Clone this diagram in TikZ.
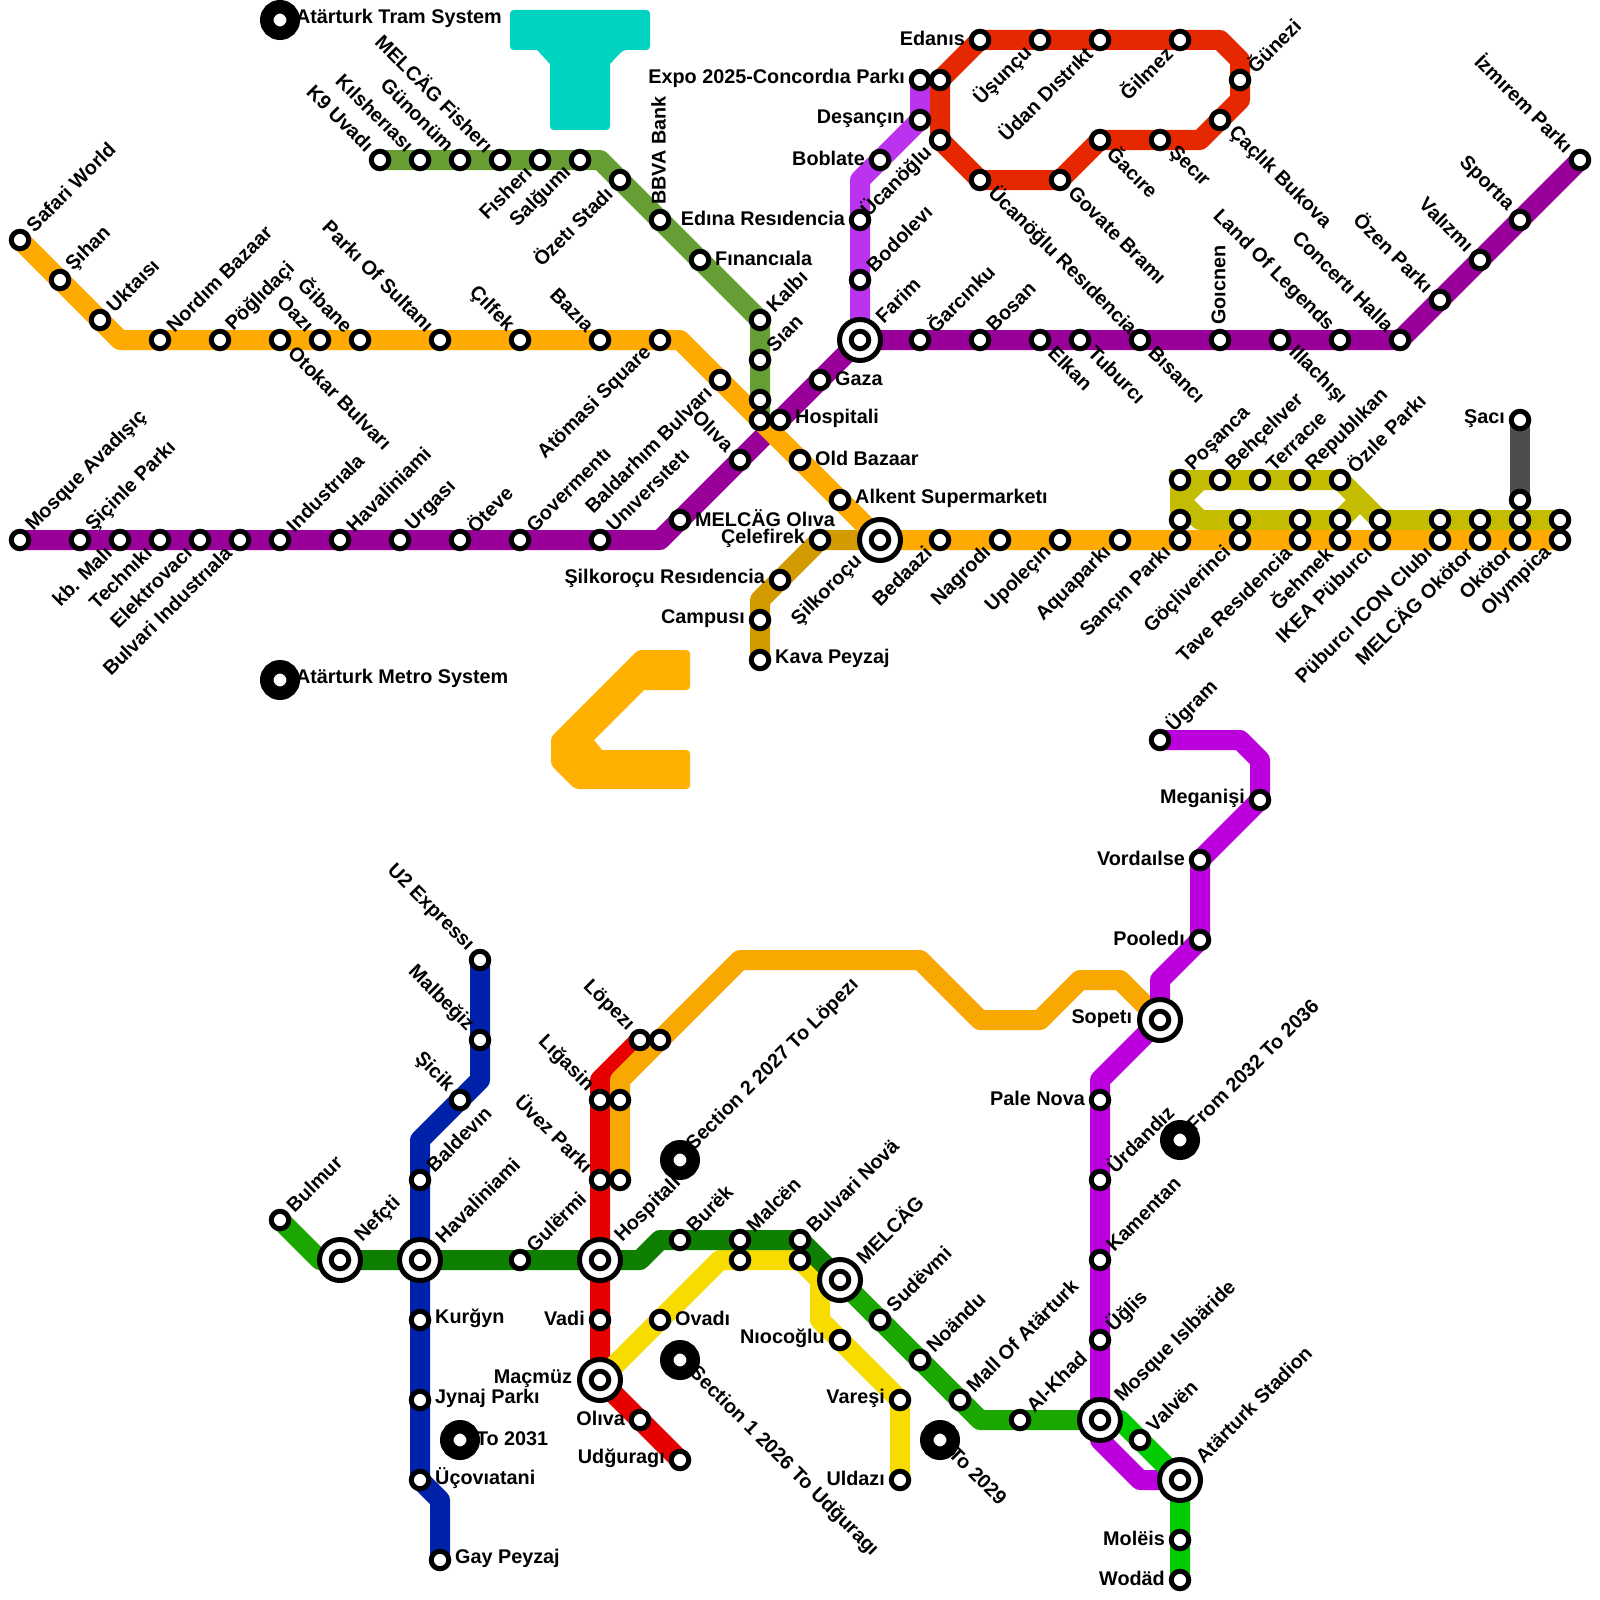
\documentclass[tikz,border=0pt]{standalone}
\usepackage{fontspec}
\setmainfont{Liberation Sans}
\definecolor{cOrange}{HTML}{FFAA00}
\definecolor{cOrangeB}{HTML}{F8A800}
\definecolor{cIcon}{HTML}{FFB000}
\definecolor{cTeal}{HTML}{00D4C0}
\definecolor{cPurple}{HTML}{990099}
\definecolor{cLilac}{HTML}{BB33EE}
\definecolor{cMagenta}{HTML}{BB00DD}
\definecolor{cScarlet}{HTML}{E62800}
\definecolor{cRed}{HTML}{E60000}
\definecolor{cMoss}{HTML}{669E33}
\definecolor{cOlive}{HTML}{C4BC00}
\definecolor{cGold}{HTML}{D49B00}
\definecolor{cGrey}{HTML}{4D4D4D}
\definecolor{cBlue}{HTML}{0022AA}
\definecolor{cDarkGreen}{HTML}{0E7F00}
\definecolor{cGreen}{HTML}{1AA800}
\definecolor{cLime}{HTML}{00CC00}
\definecolor{cYellow}{HTML}{F8DC00}
\pgfdeclarelayer{lines}
\pgfsetlayers{lines,main}
\tikzset{
  metro/.style={line width=10pt,line join=round,line cap=butt},
  stn/.style={circle,draw=black,fill=white,line width=2.5pt,minimum size=8.75pt,inner sep=0pt,outer sep=0pt},
  hub/.style={circle,draw=black,fill=white,line width=2.5pt,minimum size=20.5pt,inner sep=0pt,outer sep=0pt},
  legenddot/.style={circle,draw=black,fill=white,line width=6.75pt,minimum size=13.25pt,inner sep=0pt,outer sep=0pt},
  lab/.style={inner sep=0pt,outer sep=0pt,font=\fontsize{9.9}{11}\selectfont\bfseries,text=black},
  labe/.style={yshift=.75pt,anchor=west},
  labw/.style={yshift=.75pt,anchor=east},
  labn/.style={rotate=90,yshift=.75pt,anchor=west},
  labne/.style={rotate=45,yshift=.75pt,anchor=west},
  labnw/.style={rotate=-45,yshift=.75pt,anchor=east},
  labsw/.style={rotate=45,yshift=.75pt,anchor=east},
  labse/.style={rotate=-45,yshift=.75pt,anchor=west},
  icon/.style={rounded corners=1.8pt,draw=none}
}
\def\ange{0}\def\angw{180}\def\angn{90}\def\angne{45}\def\angnw{135}\def\angsw{225}\def\angse{315}
\newcommand\lab[4]{\path (#1) ++(\csname ang#2\endcsname:#4) node[lab,lab#2] (#1-l) {#3};}
\newcommand\st[5]{\node[stn] (#1) at (#2,#3) {};\lab{#1}{#4}{#5}{7.6pt}}
\newcommand\sn[3]{\node[stn] (#1) at (#2,#3) {};}
\newcommand\hb[5]{\node[hub] (#1) at (#2,#3) {};\node[stn] (#1-in) at (#2,#3) {};\lab{#1}{#4}{#5}{14pt}}
\newcommand\lgd[5]{\node[legenddot] (#1) at (#2,#3) {};\lab{#1}{#4}{#5}{8pt}}
\newcommand\metroline[3]{\begin{pgfonlayer}{lines}\draw[metro,#1] (#2.center) \foreach \n in {#3} {-- (\n.center)};\end{pgfonlayer}}
\begin{document}
\begin{tikzpicture}[x=10pt,y=-10pt]
\useasboundingbox (0,0) rectangle (80,80);
% icons
\begin{pgfonlayer}{lines}
\fill[cTeal,icon] (25.5,.5) -- (32.5,.5) -- (32.5,2.5) -- (31.15,2.5) [sharp corners] -- (30.5,3.2) [rounded corners=1.8pt] -- (30.5,6.5) -- (27.5,6.5) [sharp corners] -- (27.5,3.2) -- (26.85,2.5) [rounded corners=1.8pt] -- (25.5,2.5) -- cycle;
\fill[cIcon,icon] (31.9,32.5) -- (34.5,32.5) -- (34.5,34.5) [sharp corners] -- (32.2,34.5) -- (29.7,37) -- (30.1,37.5) [rounded corners=1.8pt] -- (34.5,37.5) -- (34.5,39.45) -- (28.75,39.45) -- (27.55,38.25) -- (27.55,36.85) -- cycle;
\end{pgfonlayer}
% legends
\lgd{legTram}{14}{1}{e}{Atärturk Tram System}
\lgd{legMetro}{14}{34}{e}{Atärturk Metro System}
\lgd{legA}{23}{72}{e}{To 2031}
\lgd{legB}{34}{58}{ne}{Section 2 2027 To Löpezı}
\lgd{legC}{34}{68}{se}{Section 1 2026 To Udğuragı}
\lgd{legD}{47}{72}{se}{To 2029}
\lgd{legE}{59}{57}{ne}{From 2032 To 2036}
% orange top line
\st{oa}{1}{12}{ne}{Safari World}
\st{ob}{3}{14}{ne}{Şıhan}
\st{oc}{5}{16}{ne}{Uktaısı}
\coordinate (ocx) at (6,17);
\st{od}{8}{17}{ne}{Nordım Bazaar}
\st{oe}{11}{17}{ne}{Pöğlıdaçi}
\st{of}{14}{17}{se}{Otokar Bulvarı}
\st{og}{16}{17}{nw}{Oazı}
\st{oh}{18}{17}{nw}{Ğibane}
\st{oi}{22}{17}{nw}{Parkı Of Sultanı}
\st{oj}{26}{17}{nw}{Çılfek}
\st{ok}{30}{17}{nw}{Bazıa}
\st{ol}{33}{17}{sw}{Atömasi Square}
\coordinate (olx) at (34,17);
\st{om}{36}{19}{sw}{Baldarhım Bulvarı}
\sn{on}{38}{21}
\st{oo}{40}{23}{e}{Old Bazaar}
\st{op}{42}{25}{e}{Alkent Supermarketı}
\hb{oq}{44}{27}{sw}{Şilkoroçu}
\st{or}{47}{27}{sw}{Bedaazi}
\st{os}{50}{27}{sw}{Nagrodı}
\st{ot}{53}{27}{sw}{Upoleçın}
\st{ou}{56}{27}{sw}{Aquaparkı}
\st{ov}{59}{27}{sw}{Sançın Parkı}
\st{ow}{62}{27}{sw}{Göçliverinci}
\st{ox}{65}{27}{sw}{Tave Resıdencia}
\st{oy}{67}{27}{sw}{Ğehmek}
\st{oz}{69}{27}{sw}{IKEA Püburcı}
\st{oaa}{72}{27}{sw}{Püburcı ICON Clubı}
\st{oab}{74}{27}{sw}{MELCÄG Okötor}
\st{oac}{76}{27}{sw}{Okötor}
\st{oad}{78}{27}{sw}{Olympica}
% moss line
\st{ma}{19}{8}{nw}{K9 Uvadı}
\st{mb}{21}{8}{nw}{Kılsherıası}
\st{mc}{23}{8}{nw}{Günonüm}
\st{md}{25}{8}{nw}{MELCÄG Fisherı}
\st{me}{27}{8}{sw}{Fısherı}
\st{mf}{29}{8}{sw}{Salğumı}
\coordinate (mfx) at (30,8);
\st{mg}{31}{9}{sw}{Özetı Stadı}
\st{mh}{33}{11}{n}{BBVA Bank}
\st{mi}{35}{13}{e}{Fınancıala}
\st{mj}{38}{16}{ne}{Kalbı}
\st{mk}{38}{18}{ne}{Sıan}
\sn{ml}{38}{20}
% purple line
\st{pa}{1}{27}{ne}{Mosque Avadışıç}
\st{pb}{4}{27}{ne}{Şiçinle Parkı}
\st{pc}{6}{27}{sw}{kb. Malı}
\st{pd}{8}{27}{sw}{Technıkı}
\st{pe}{10}{27}{sw}{Elektrovacı}
\st{pf}{12}{27}{sw}{Bulvari Industrıala}
\st{pg}{14}{27}{ne}{Industrıala}
\st{ph}{17}{27}{ne}{Havaliniami}
\st{pi}{20}{27}{ne}{Urgası}
\st{pj}{23}{27}{ne}{Öteve}
\st{pk}{26}{27}{ne}{Govermentı}
\st{pl}{30}{27}{ne}{Unıversıtetı}
\coordinate (plx) at (33,27);
\st{pm}{34}{26}{e}{MELCÄG Olıva}
\st{pn}{37}{23}{nw}{Olıva}
\st{po}{39}{21}{e}{Hospitali}
\st{pp}{41}{19}{e}{Gaza}
\hb{pq}{43}{17}{ne}{Farim}
\st{pr}{46}{17}{ne}{Ğarcınku}
\st{ps}{49}{17}{ne}{Bosan}
\st{pt}{52}{17}{se}{Elkan}
\st{pu}{54}{17}{se}{Tuburcı}
\st{pv}{57}{17}{se}{Bısancı}
\st{pw}{61}{17}{n}{Goıcnen}
\st{px}{64}{17}{se}{Illachışı}
\st{py}{67}{17}{nw}{Land Of Legends}
\st{pz}{70}{17}{nw}{Concertı Halla}
\st{paa}{72}{15}{nw}{Özen Parkı}
\st{pab}{74}{13}{nw}{Valızmı}
\st{pac}{76}{11}{nw}{Sportıa}
\st{pad}{79}{8}{nw}{İzmırem Parkı}
% lilac
\st{la}{46}{4}{w}{Expo 2025-Concordıa Parkı}
\st{lb}{46}{6}{w}{Deşançın}
\st{lc}{44}{8}{w}{Boblate}
\coordinate (lcx) at (43,9);
\st{ld}{43}{11}{w}{Edına Resıdencia}
\st{le}{43}{14}{ne}{Bodolevı}
% scarlet loop
\sn{sa}{47}{4}
\st{sb}{49}{2}{w}{Edanıs}
\st{sc}{52}{2}{sw}{Üşunçu}
\st{sd}{55}{2}{sw}{Üdan Dıstrıkt}
\st{se}{59}{2}{sw}{Ğilmez}
\coordinate (sex) at (61,2);
\coordinate (sey) at (62,3);
\st{sf}{62}{4}{ne}{Ğünezi}
\coordinate (sfx) at (62,5);
\st{sg}{61}{6}{se}{Çaçlık Bukova}
\coordinate (sgx) at (60,7);
\st{sh}{58}{7}{se}{Şecır}
\st{si}{55}{7}{se}{Ğacıre}
\st{sj}{53}{9}{se}{Govate Bramı}
\st{sk}{49}{9}{se}{Ücanöğlu Resıdencia}
\st{sl}{47}{7}{sw}{Ücanöğlu}
% olive
\st{va}{59}{24}{ne}{Poşanca}
\st{vb}{61}{24}{ne}{Behçelıver}
\st{vc}{63}{24}{ne}{Terracıe}
\st{vd}{65}{24}{ne}{Republıkan}
\st{ve}{67}{24}{ne}{Özıle Parkı}
\sn{vf}{69}{26}
\sn{vg}{72}{26}
\sn{vh}{74}{26}
\sn{vi}{76}{26}
\sn{vj}{78}{26}
\sn{vk}{59}{26}
\sn{vl}{62}{26}
\sn{vm}{65}{26}
\sn{vn}{67}{26}
\coordinate (vx) at (59,25);
\coordinate (vy) at (60,24);
\coordinate (vz) at (60,26);
\coordinate (vw) at (68,25);
% grey
\st{ga}{76}{21}{w}{Şacı}
\sn{gb}{76}{25}
% gold
\st{ka}{41}{27}{w}{Çelefirek}
\st{kb}{39}{29}{w}{Şilkoroçu Resıdencia}
\coordinate (kbx) at (38,30);
\st{kc}{38}{31}{w}{Campusı}
\st{kd}{38}{33}{e}{Kava Peyzaj}
% lower network: blue
\st{ba}{24}{48}{nw}{U2 Expressı}
\st{bb}{24}{52}{nw}{Malbeğiz}
\coordinate (bbx) at (24,54);
\st{bc}{23}{55}{nw}{Şicik}
\coordinate (bcx) at (21,57);
\st{bd}{21}{59}{ne}{Baldevın}
\hb{be}{21}{63}{ne}{Havaliniami}
\st{bf}{21}{66}{e}{Kurğyn}
\st{bg}{21}{70}{e}{Jynaj Parkı}
\st{bh}{21}{74}{e}{Üçovıatani}
\coordinate (bhx) at (22,75);
\st{bi}{22}{78}{e}{Gay Peyzaj}
% green
\st{da}{14}{61}{ne}{Bulmur}
\coordinate (dax) at (16,63);
\hb{db}{17}{63}{ne}{Nefçti}
\st{dc}{26}{63}{ne}{Gulërmi}
\hb{dd}{30}{63}{ne}{Hospitali}
\coordinate (ddx) at (32,63);
\coordinate (ddy) at (33,62);
\st{de}{34}{62}{ne}{Burëk}
\st{df}{37}{62}{ne}{Malcën}
\st{dg}{40}{62}{ne}{Bulvari Novä}
\hb{dh}{42}{64}{ne}{MELCÄG}
\st{di}{44}{66}{ne}{Sudëvmi}
\st{dj}{46}{68}{ne}{Noändu}
\st{dk}{48}{70}{ne}{Mall Of Atärturk}
\coordinate (dkx) at (49,71);
\st{dl}{51}{71}{ne}{Al-Khad}
\hb{dm}{55}{71}{ne}{Mosque Islbäride}
\coordinate (dmx) at (56,71);
\st{dn}{57}{72}{ne}{Valvën}
\hb{do}{59}{74}{ne}{Atärturk Stadion}
\st{dp}{59}{77}{w}{Molëis}
\st{dq}{59}{79}{w}{Wodäd}
% magenta
\st{na}{58}{37}{ne}{Ügram}
\coordinate (nax) at (62,37);
\coordinate (nay) at (63,38);
\st{nb}{63}{40}{w}{Meganişi}
\st{nc}{60}{43}{w}{Vordaılse}
\st{nd}{60}{47}{w}{Pooledı}
\coordinate (ndx) at (58,49);
\hb{ne}{58}{51}{w}{Sopetı}
\coordinate (nex) at (55,54);
\st{nf}{55}{55}{w}{Pale Nova}
\st{ng}{55}{59}{ne}{Ürdandız}
\st{nh}{55}{63}{ne}{Kamentan}
\st{ni}{55}{67}{ne}{Üğlis}
\coordinate (nix) at (55,72);
\coordinate (niy) at (57,74);
% orange lower
\sn{ua}{31}{59}
\sn{ub}{31}{55}
\coordinate (ubx) at (31,54);
\sn{uc}{33}{52}
\coordinate (ucx) at (37,48);
\coordinate (ucy) at (46,48);
\coordinate (ucz) at (49,51);
\coordinate (ucu) at (52,51);
\coordinate (ucv) at (54,49);
\coordinate (ucw) at (56,49);
% red
\st{ra}{32}{52}{nw}{Löpezı}
\coordinate (rax) at (30,54);
\st{rb}{30}{55}{nw}{Lığasin}
\st{rc}{30}{59}{nw}{Üvez Parkı}
\st{rd}{30}{66}{w}{Vadi}
\hb{re}{30}{69}{w}{Maçmüz}
\st{rf}{32}{71}{w}{Olıva}
\st{rg}{34}{73}{w}{Udğuragı}
% yellow
\st{ya}{33}{66}{e}{Ovadı}
\coordinate (yax) at (36,63);
\sn{yb}{37}{63}
\sn{yc}{40}{63}
\coordinate (ycx) at (41,64);
\coordinate (ycy) at (41,66);
\st{yd}{42}{67}{w}{Nıocoğlu}
\st{ye}{45}{70}{w}{Vareşi}
\st{yf}{45}{74}{w}{Uldazı}
% connectors, back to front
\metroline{cPurple}{pa}{pb,pc,pd,pe,pf,pg,ph,pi,pj,pk,pl,plx,pm,pn,po,pp,pq,pr,ps,pt,pu,pv,pw,px,py,pz,paa,pab,pac,pad}
\metroline{cMoss}{ma}{mb,mc,md,me,mf,mfx,mg,mh,mi,mj,mk,ml,on}
\metroline{cGold}{kd}{kc,kbx,kb,ka,oq}
\metroline{cOrange}{oa}{ob,oc,ocx,od,oe,of,og,oh,oi,oj,ok,ol,olx,om,on,oo,op,oq,or,os,ot,ou,ov,ow,ox,oy,oz,oaa,oab,oac,oad}
\metroline{cLilac}{la}{lb,lc,lcx,ld,le,pq}
\metroline{cScarlet}{sa}{sb,sc,sd,se,sex,sey,sf,sfx,sg,sgx,sh,si,sj,sk,sl,sa}
\metroline{cOlive,line join=miter}{vk}{va,vb,vc,vd,ve,vf,vg,vh,vi,vj}
\metroline{cOlive}{vy}{vx,vz,vl,vm,vn,vw}
\metroline{cGrey}{ga}{gb}
\metroline{cBlue}{ba}{bb,bbx,bc,bcx,bd,be,bf,bg,bh,bhx,bi}
\metroline{cRed}{ra}{rax,rb,rc,dd,rd,re,rf,rg}
\metroline{cOrangeB}{ua}{ub,ubx,uc,ucx,ucy,ucz,ucu,ucv,ucw,ne}
\metroline{cYellow}{re}{ya,yax,yb,yc,ycx,ycy,yd,ye,yf}
\metroline{cGreen}{da}{dax,db}
\metroline{cDarkGreen}{db}{be,dc,dd,ddx,ddy,de,df,dg,dh}
\metroline{cGreen}{dh}{di,dj,dk,dkx,dl,dm}
\metroline{cMagenta}{na}{nax,nay,nb,nc,nd,ndx,ne,nex,nf,ng,nh,ni,dm,nix,niy,do}
\metroline{cLime}{dm}{dmx,dn,do,dp,dq}
\end{tikzpicture}
\end{document}
